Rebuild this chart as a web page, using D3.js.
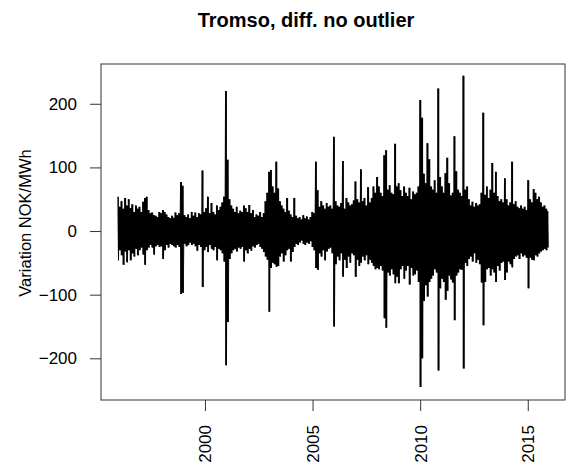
<!DOCTYPE html>
<html>
<head>
<meta charset="utf-8">
<script src="https://cdn.jsdelivr.net/npm/d3@7"></script>
<style>
  html, body { margin: 0; padding: 0; background: #fff; }
  svg text { font-family: "Liberation Sans", Arial, sans-serif; }
</style>
</head>
<body>
<div id="chart"></div>
<script>
// monthly extremes of the daily price difference (NOK/MWh)
const years = [1996, 1997, 1998, 1999, 2000, 2001, 2002, 2003, 2004, 2005,
  2006, 2007, 2008, 2009, 2010, 2011, 2012, 2013, 2014, 2015]

const monthHigh = [
  [54, 38, 47, 35, 52, 40, 50, 36, 42, 30, 40, 35],
  [38, 30, 46, 52, 54, 33, 28, 29, 25, 24, 22, 30],
  [28, 33, 30, 26, 22, 20, 24, 21, 29, 25, 28, 77],
  [71, 25, 22, 26, 20, 30, 24, 29, 22, 28, 26, 95],
  [30, 36, 54, 28, 44, 30, 26, 40, 33, 38, 45, 54],
  [220, 112, 50, 40, 35, 30, 38, 28, 32, 30, 40, 36],
  [30, 41, 28, 33, 22, 26, 24, 30, 22, 28, 47, 60],
  [93, 96, 70, 60, 109, 67, 47, 40, 35, 30, 52, 32],
  [26, 22, 52, 24, 20, 22, 18, 25, 20, 23, 18, 22],
  [30, 28, 109, 64, 38, 47, 40, 35, 44, 38, 40, 35],
  [148, 47, 40, 38, 44, 110, 35, 52, 45, 40, 42, 48],
  [78, 50, 45, 97, 47, 52, 40, 69, 45, 52, 70, 60],
  [85, 70, 60, 55, 119, 127, 65, 72, 60, 58, 137, 70],
  [75, 64, 55, 70, 60, 55, 68, 50, 62, 58, 60, 70],
  [206, 178, 90, 75, 138, 113, 70, 65, 80, 60, 224, 85],
  [70, 60, 91, 115, 75, 56, 60, 149, 94, 65, 60, 55],
  [244, 65, 70, 50, 40, 46, 38, 44, 40, 42, 60, 186],
  [57, 70, 52, 65, 107, 60, 93, 55, 47, 50, 45, 83],
  [50, 40, 45, 109, 42, 47, 38, 36, 40, 35, 38, 33],
  [80, 50, 45, 66, 60, 50, 54, 45, 38, 40, 35, 31]
]

const monthLow = [
  [-46, -30, -38, -53, -32, -49, -30, -46, -35, -40, -28, -38],
  [-30, -26, -37, -53, -30, -26, -22, -26, -37, -24, -22, -25],
  [-24, -44, -30, -22, -26, -20, -22, -24, -26, -22, -25, -99],
  [-97, -20, -24, -22, -18, -22, -20, -24, -31, -22, -25, -88],
  [-30, -25, -33, -22, -28, -30, -25, -46, -28, -30, -35, -48],
  [-211, -143, -44, -35, -30, -28, -32, -26, -28, -25, -48, -30],
  [-35, -28, -31, -24, -26, -22, -20, -25, -28, -33, -40, -45],
  [-127, -58, -50, -52, -56, -55, -40, -35, -48, -38, -30, -28],
  [-48, -33, -25, -20, -22, -18, -15, -20, -22, -18, -20, -16],
  [-25, -30, -58, -61, -35, -40, -30, -46, -32, -28, -26, -35],
  [-150, -52, -40, -46, -35, -72, -45, -58, -40, -50, -35, -38],
  [-72, -45, -55, -50, -40, -46, -38, -52, -45, -50, -55, -60],
  [-58, -60, -55, -62, -137, -152, -65, -70, -60, -68, -82, -72],
  [-82, -60, -55, -75, -62, -55, -84, -58, -70, -68, -62, -80],
  [-245, -200, -110, -85, -103, -80, -75, -70, -60, -65, -219, -90],
  [-75, -80, -108, -94, -70, -76, -81, -140, -70, -65, -60, -61],
  [-216, -50, -55, -44, -40, -48, -35, -50, -45, -52, -81, -148],
  [-80, -60, -58, -70, -60, -65, -80, -55, -62, -50, -48, -77],
  [-65, -48, -52, -57, -44, -40, -38, -44, -35, -40, -38, -42],
  [-90, -42, -45, -46, -38, -40, -35, -32, -30, -28, -30, -26]
]

const yTicks = [-200, -100, 0, 100, 200]
const xTicks = [2000, 2005, 2010, 2015]

const title = 'Tromso, diff. no outlier'
const yLabel = 'Variation NOK/MWh'

const width = 569
const height = 470
const plot = { left: 101, right: 565, top: 64, bottom: 400 }

const svg = d3.select('#chart')
  .append('svg')
  .attr('width', width)
  .attr('height', height)

const x = d3.scaleLinear()
  .domain([1995.17, 2016.73])
  .range([plot.left, plot.right])

const y = d3.scaleLinear()
  .domain([-265.5, 262.5])
  .range([plot.bottom, plot.top])

// one record per month, spread evenly over the span the series covers
const months = []
years.forEach((yr, i) => {
  monthHigh[i].forEach((h, m) => {
    months.push({ yr, m, hi: h, lo: monthLow[i][m] })
  })
})
const tStart = 1995.92
const tEnd = 2015.99
const step = (tEnd - tStart) / months.length
const tOf = k => tStart + (k + 0.5) * step

// solid envelope, month by month
const area = d3.area()
  .curve(d3.curveStep)
  .x((d, k) => x(tOf(k)))
  .y0(d => y(d.lo))
  .y1(d => y(d.hi))

svg.append('path')
  .datum(months)
  .attr('d', area)
  .attr('fill', '#000')

// daily-style trace through the extremes on top
const zig = []
months.forEach((d, k) => {
  zig.push({ t: tOf(k) - step / 4, v: d.hi })
  zig.push({ t: tOf(k) + step / 4, v: d.lo })
})
svg.append('path')
  .datum(zig)
  .attr('d', d3.line().x(d => x(d.t)).y(d => y(d.v)))
  .attr('fill', 'none')
  .attr('stroke', '#000')
  .attr('stroke-width', 0.7)

// box
svg.append('rect')
  .attr('x', plot.left)
  .attr('y', plot.top)
  .attr('width', plot.right - plot.left)
  .attr('height', plot.bottom - plot.top)
  .attr('fill', 'none')
  .attr('stroke', '#333')
  .attr('stroke-width', 1)

// y axis
const yAxis = svg.append('g')
  .attr('transform', `translate(${plot.left},0)`)
  .call(d3.axisLeft(y).tickValues(yTicks).tickSize(11).tickPadding(13).tickFormat(d3.format('d')))
yAxis.select('.domain').remove()
yAxis.selectAll('line').attr('stroke', '#333')
yAxis.selectAll('text')
  .attr('font-size', 17)
  .attr('fill', '#000')
  .attr('font-family', '"Liberation Sans", Arial, sans-serif')

// x axis
const xAxis = svg.append('g')
  .attr('transform', `translate(0,${plot.bottom})`)
  .call(d3.axisBottom(x).tickValues(xTicks).tickSize(11).tickFormat(d3.format('d')))
xAxis.select('.domain').remove()
xAxis.selectAll('line').attr('stroke', '#333')
xAxis.selectAll('text')
  .attr('font-size', 17)
  .attr('fill', '#000')
  .attr('font-family', '"Liberation Sans", Arial, sans-serif')
  .attr('transform', 'rotate(-90)')
  .attr('x', -25)
  .attr('y', 0)
  .attr('dy', '0.35em')
  .attr('text-anchor', 'end')

svg.append('text')
  .attr('x', 306)
  .attr('y', 27)
  .attr('text-anchor', 'middle')
  .attr('font-size', 20)
  .attr('font-weight', 'bold')
  .text(title)

svg.append('text')
  .attr('transform', 'translate(31,223) rotate(-90)')
  .attr('text-anchor', 'middle')
  .attr('font-size', 16.5)
  .text(yLabel)
</script>
</body>
</html>
